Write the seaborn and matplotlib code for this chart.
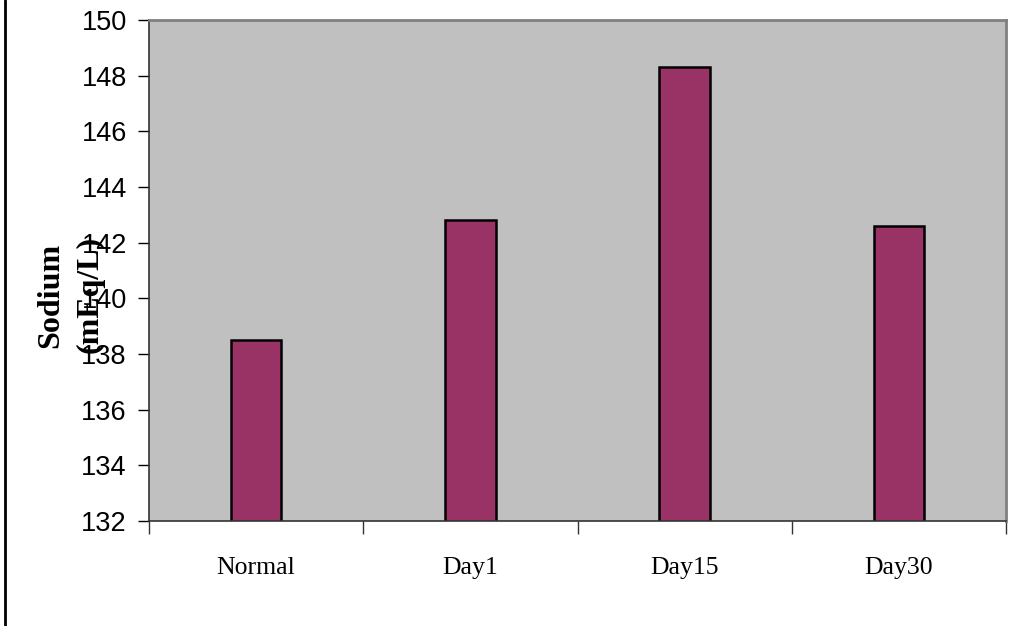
import matplotlib
matplotlib.use("Agg")
import matplotlib.pyplot as plt
import seaborn as sns
import pandas as pd
from matplotlib.lines import Line2D
from matplotlib.ticker import FixedLocator

categories = ["Normal", "Day1", "Day15", "Day30"]
sodium = [138.5, 142.8, 148.3, 142.6]
yticks = list(range(132, 151, 2))

df = pd.DataFrame({"group": categories, "sodium": sodium})

sns.set_theme(style="white")
plt.rcParams["font.family"] = ["Liberation Sans", "DejaVu Sans"]
plt.rcParams["text.color"] = "black"
plt.rcParams["xtick.color"] = "black"
plt.rcParams["ytick.color"] = "black"
plt.rcParams["xtick.labelcolor"] = "black"
plt.rcParams["ytick.labelcolor"] = "black"

W, H = 1028, 626
fig = plt.figure(figsize=(W / 100, H / 100), dpi=100)
ax = fig.add_axes([149 / W, 1 - 521 / H, (1006 - 149) / W, (521 - 20) / H])
ax.set_facecolor("#C0C0C0")

sns.barplot(data=df, x="group", y="sodium", order=categories, color="#993366",
            width=0.235, edgecolor="black", linewidth=1.8, saturation=1, ax=ax)
for p in ax.patches:
    p.set_facecolor("#993366")

ax.set_ylim(132, 150)
ax.set_xlim(-0.5, 3.5)
ax.set_yticks(yticks)
ax.set_yticklabels([str(v) for v in yticks], fontsize=19.5, family="Liberation Sans", color="black")
ax.tick_params(axis="y", direction="out", length=8, width=1, color="black", pad=8, left=True)

ax.set_xticks(range(len(categories)))
ax.set_xticklabels(categories, fontsize=18.5, family="Liberation Serif", color="black")
ax.xaxis.set_minor_locator(FixedLocator([-0.5, 0.5, 1.5, 2.5, 3.5]))
ax.tick_params(axis="x", which="major", length=0, pad=26)
ax.tick_params(axis="x", which="minor", direction="out", length=9, width=1, color="#333333", bottom=True)

ax.set_xlabel("")
ax.set_ylabel("")
for s in ["top", "right"]:
    ax.spines[s].set_color("#808080")
    ax.spines[s].set_linewidth(2)
for s in ["left", "bottom"]:
    ax.spines[s].set_color("#333333")
    ax.spines[s].set_linewidth(1.2)

fig.text(51 / W, 1 - 295 / H, "Sodium", rotation=90, ha="center", va="center",
         fontsize=23, fontweight="bold", family="Liberation Serif", color="black")
fig.text(90 / W, 1 - 294 / H, "(mEq/L)", rotation=90, ha="center", va="center",
         fontsize=23, fontweight="bold", family="Liberation Serif", color="black")

fig.add_artist(Line2D([5 / W, 5 / W], [0, 1], color="black", linewidth=2))

fig.savefig("out.png", dpi=100)
